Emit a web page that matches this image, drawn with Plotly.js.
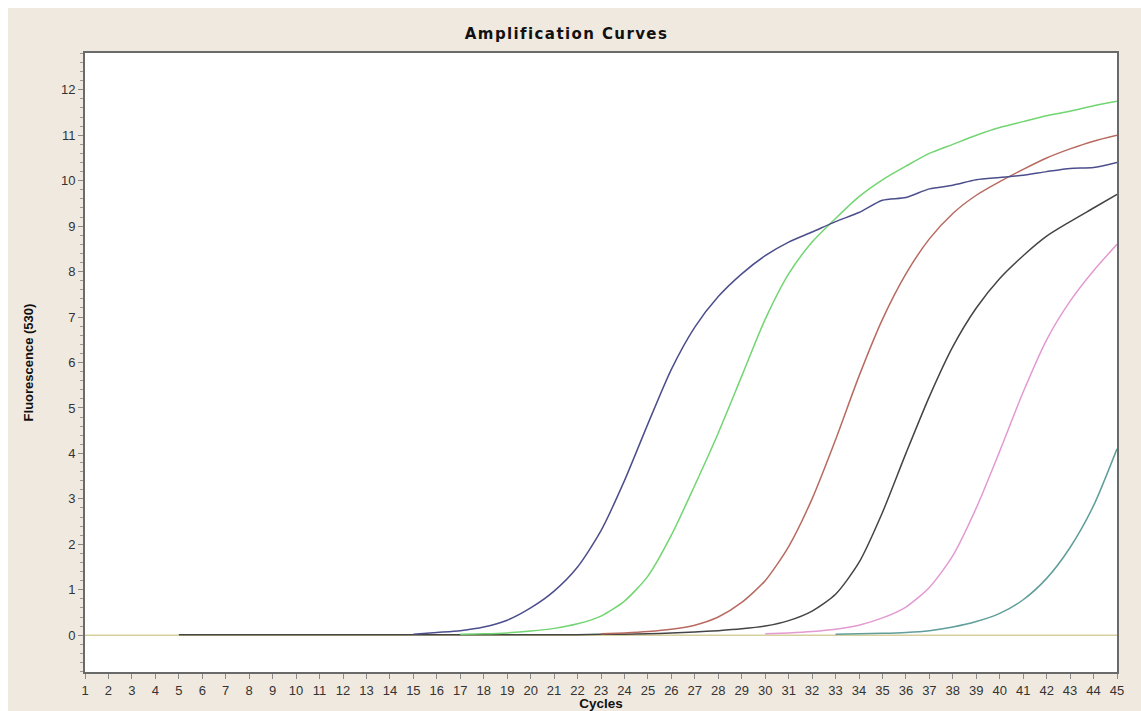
<!DOCTYPE html>
<html>
<head>
<meta charset="utf-8">
<script src="https://cdn.plot.ly/plotly-3.0.1.min.js"></script>
<style>
html,body{margin:0;padding:0;background:#ffffff;}
#chart{position:absolute;left:8px;top:8px;width:1133px;height:703px;}
#chart .gtitle{letter-spacing:1.4px;}
</style>
</head>
<body>
<div id="chart"></div>
<script>
const cycles = Array.from({length: 45}, (_, i) => i + 1);
const xTickLabels = cycles.map(String);
const yTickValues = [0,1,2,3,4,5,6,7,8,9,10,11,12];
const N = null;

const thresholdCycles = [1, 45];
const thresholdValues = [0, 0];

const darkValues = [N,N,N,N,0.01,0.01,0.01,0.01,0.01,0.01,0.01,0.01,0.01,0.01,0.01,0.01,0.01,0.01,0.01,0.01,0.01,0.01,0.02,0.02,0.03,0.05,0.07,0.1,0.14,0.2,0.32,0.53,0.9,1.6,2.7,4.0,5.25,6.35,7.2,7.85,8.35,8.78,9.1,9.4,9.7];
const tealValues = [N,N,N,N,N,N,N,N,N,N,N,N,N,N,N,N,N,N,N,N,N,N,N,N,N,N,N,N,N,N,N,N,0.02,0.03,0.04,0.06,0.1,0.18,0.3,0.48,0.78,1.25,1.93,2.85,4.1];
const pinkValues = [N,N,N,N,N,N,N,N,N,N,N,N,N,N,N,N,N,N,N,N,N,N,N,N,N,N,N,N,N,0.03,0.05,0.08,0.13,0.22,0.38,0.62,1.05,1.75,2.8,4.05,5.35,6.5,7.35,8.02,8.6];
const redValues = [N,N,N,N,N,N,N,N,N,N,N,N,N,N,N,N,N,N,N,N,N,N,0.03,0.05,0.08,0.13,0.22,0.4,0.72,1.2,1.95,3.0,4.3,5.7,6.95,7.95,8.72,9.28,9.68,9.98,10.25,10.5,10.7,10.87,11.0];
const greenValues = [N,N,N,N,N,N,N,N,N,N,N,N,N,N,N,N,0.02,0.03,0.05,0.09,0.15,0.25,0.42,0.75,1.3,2.2,3.3,4.45,5.7,6.95,7.95,8.65,9.17,9.65,10.02,10.32,10.6,10.8,11.0,11.17,11.3,11.43,11.53,11.65,11.75];
const navyValues = [N,N,N,N,N,N,N,N,N,N,N,N,N,N,0.02,0.06,0.1,0.18,0.33,0.6,0.97,1.5,2.3,3.4,4.65,5.85,6.78,7.45,7.95,8.35,8.65,8.87,9.1,9.3,9.57,9.63,9.82,9.9,10.02,10.07,10.12,10.2,10.27,10.29,10.4];

const series = [
  {name: 'Threshold', x: thresholdCycles, y: thresholdValues, color: '#d6cf9e'},
  {name: 'Sample 5', x: cycles, y: darkValues, color: '#444444'},
  {name: 'Sample 7', x: cycles, y: tealValues, color: '#5f9e9a'},
  {name: 'Sample 6', x: cycles, y: pinkValues, color: '#e39ad2'},
  {name: 'Sample 4', x: cycles, y: redValues, color: '#b86a60'},
  {name: 'Sample 3', x: cycles, y: greenValues, color: '#72d572'},
  {name: 'Sample 2', x: cycles, y: navyValues, color: '#4c4e8c'}
];

const traces = series.map(s => ({
  type: 'scatter', mode: 'lines', name: s.name,
  x: s.x, y: s.y, connectgaps: false,
  line: {color: s.color, width: 1.5, shape: 'spline', smoothing: 0.7},
  hoverinfo: 'x+y+name'
}));

const layout = {
  width: 1133, height: 703,
  paper_bgcolor: '#f0e9e0',
  plot_bgcolor: '#ffffff',
  margin: {l: 77, r: 24, t: 45, b: 39},
  showlegend: false,
  title: {
    text: '<b>Amplification Curves</b>',
    font: {family: 'DejaVu Sans, Verdana, sans-serif', size: 15, color: '#111111'},
    x: 0.493, xanchor: 'center', y: 0.963, yanchor: 'middle'
  },
  xaxis: {
    range: [1, 45], tickmode: 'array', tickvals: cycles, ticktext: xTickLabels,
    showgrid: false, zeroline: false,
    showline: true, mirror: true, linecolor: '#6a6a6a', linewidth: 2,
    ticks: 'outside', ticklen: 5, tickcolor: '#8a8a8a', tickwidth: 1,
    tickfont: {family: 'Liberation Sans, Arial, sans-serif', size: 13, color: '#333333'},
    title: {text: '<b>Cycles</b>', standoff: 1,
      font: {family: 'Liberation Sans, Arial, sans-serif', size: 13.5, color: '#111111'}},
    automargin: false
  },
  yaxis: {
    range: [-0.81, 12.81], tickmode: 'array', tickvals: yTickValues,
    showgrid: false, zeroline: false,
    showline: true, mirror: true, linecolor: '#6a6a6a', linewidth: 2,
    ticks: 'outside', ticklen: 5, tickcolor: '#8a8a8a', tickwidth: 1,
    minor: {dtick: 0.2, ticks: 'outside', ticklen: 3, tickcolor: '#9a9a9a', showgrid: false},
    tickfont: {family: 'Liberation Sans, Arial, sans-serif', size: 13, color: '#333333'},
    title: {text: '<b>Fluorescence (530)</b>', standoff: 24,
      font: {family: 'Liberation Sans, Arial, sans-serif', size: 13, color: '#111111'}},
    automargin: false
  }
};

Plotly.newPlot('chart', traces, layout, {displayModeBar: false, staticPlot: true});
</script>
</body>
</html>
